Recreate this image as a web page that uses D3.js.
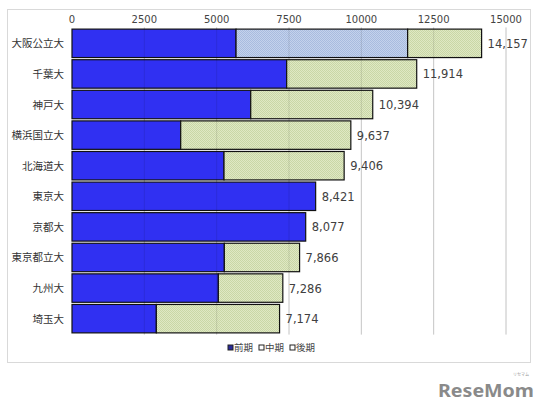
<!DOCTYPE html>
<html><head><meta charset="utf-8">
<script src="https://cdn.jsdelivr.net/npm/d3@7"></script>
<style>body{margin:0;background:#fff}svg{display:block}</style>
</head><body>
<script>
const categories = ["大阪公立大","千葉大","神戸大","横浜国立大","北海道大","東京大","京都大","東京都立大","九州大","埼玉大"];
const zenki  = [5670,7420,6177,3757,5254,8421,8077,5265,5058,2915];
const chuki  = [5930,0,0,0,0,0,0,0,0,0];
const koki   = [2557,4494,4217,5880,4152,0,0,2601,2228,4259];
const totals = [14157,11914,10394,9637,9406,8421,8077,7866,7286,7174];
const seriesNames = ["前期","中期","後期"];
const ticks = [0,2500,5000,7500,10000,12500,15000];

const W=548,H=416;
const svg=d3.select("body").append("svg").attr("width",W).attr("height",H);
const defs=svg.append("defs");
function pat(id,base,dot){
  const p=defs.append("pattern").attr("id",id).attr("width",2).attr("height",2).attr("patternUnits","userSpaceOnUse");
  p.append("rect").attr("width",2).attr("height",2).attr("fill",base);
  p.append("rect").attr("width",1).attr("height",1).attr("fill",dot);
  p.append("rect").attr("x",1).attr("y",1).attr("width",1).attr("height",1).attr("fill",dot);
}
pat("pMid","#c4d2ec","#a8bcdf");
pat("pLate","#dfe8c4","#c9d7a6");
const fills=["#3030f2","url(#pMid)","url(#pLate)"];
const legendFills=["#2a2a9a","#fff","#fff"];

svg.append("rect").attr("x",7.5).attr("y",9.5).attr("width",523).attr("height",353)
  .attr("fill","#fff").attr("stroke","#d9d9d9");

const x=d3.scaleLinear().domain([0,15000]).range([72,506]);
const y=d3.scaleBand().domain(categories).range([28.5,333.5]).paddingInner(0.07).paddingOuter(0.02);

// grid behind
svg.append("g").selectAll("line").data(ticks.slice(1)).join("line")
  .attr("x1",d=>x(d)).attr("x2",d=>x(d)).attr("y1",27).attr("y2",335)
  .attr("stroke","#dcdcdc");

const data=categories.map((c,i)=>({c,vals:[zenki[i],chuki[i],koki[i]],total:totals[i]}));
const g=svg.append("g");
data.forEach(d=>{
  let acc=0;
  d.vals.forEach((v,k)=>{
    if(v>0){
      g.append("rect").attr("x",x(acc)).attr("y",y(d.c)).attr("width",x(acc+v)-x(acc)).attr("height",y.bandwidth())
        .attr("fill",fills[k]).attr("stroke","#111").attr("stroke-width",1.2);
    }
    acc+=v;
  });
});
// grid over bars (faint)
svg.append("g").selectAll("line").data(ticks.slice(1)).join("line")
  .attr("x1",d=>x(d)).attr("x2",d=>x(d)).attr("y1",28).attr("y2",334)
  .attr("stroke","#000").attr("stroke-opacity",0.1);

// top axis labels
svg.append("g").selectAll("text").data(ticks).join("text")
  .attr("x",d=>x(d)).attr("y",23).attr("text-anchor","middle")
  .attr("font-family","DejaVu Sans, Verdana, sans-serif").attr("font-size",10).attr("fill","#444")
  .text(d=>d);

// category labels
svg.append("g").selectAll("text").data(categories).join("text")
  .attr("x",64).attr("y",d=>y(d)+y.bandwidth()/2+4).attr("text-anchor","end")
  .attr("font-family","Noto Sans CJK JP, sans-serif").attr("font-size",10.5).attr("fill","#333")
  .text(d=>d);

// value labels
svg.append("g").selectAll("text").data(data).join("text")
  .attr("x",d=>x(d.total)+6).attr("y",d=>y(d.c)+y.bandwidth()/2+4.5)
  .attr("font-family","DejaVu Sans, Verdana, sans-serif").attr("font-size",11.5).attr("fill","#404040")
  .text(d=>d3.format(",")(d.total));

// legend
const lg=svg.append("g").attr("transform","translate(228,351)");
seriesNames.forEach((s,i)=>{
  const gx=i*31;
  lg.append("rect").attr("x",gx).attr("y",-6).attr("width",5).attr("height",5)
    .attr("fill",legendFills[i]).attr("stroke","#222").attr("stroke-width",1);
  lg.append("text").attr("x",gx+6).attr("y",0).attr("font-family","Noto Sans CJK JP, sans-serif")
    .attr("font-size",9.5).attr("fill","#444").text(s);
});

// logo
svg.append("text").attr("x",438).attr("y",397).attr("font-family","Noto Sans, DejaVu Sans, sans-serif")
  .attr("font-weight","bold").attr("font-size",18).attr("fill","#8a8a8a")
  .attr("textLength",96).attr("lengthAdjust","spacingAndGlyphs").text("ReseMom");
svg.append("text").attr("x",521).attr("y",376).attr("text-anchor","middle").attr("font-family","Noto Sans CJK JP, sans-serif")
  .attr("font-size",4).attr("fill","#999").text("リセマム");
</script>
</body></html>
